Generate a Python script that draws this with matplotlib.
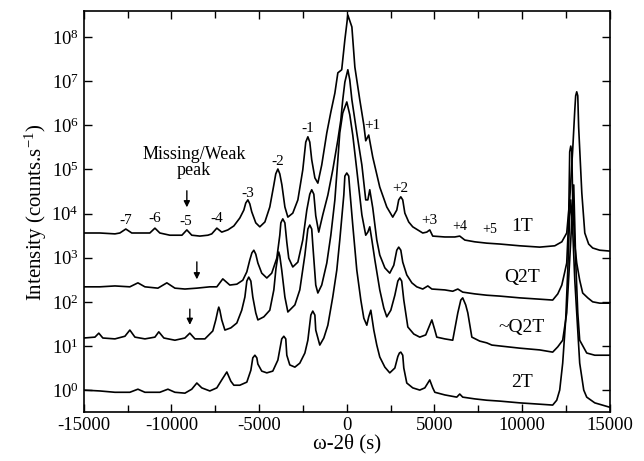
import matplotlib
matplotlib.use('Agg')
import matplotlib.pyplot as plt
import numpy as np
from matplotlib.ticker import MultipleLocator, FixedLocator, NullLocator

matplotlib.rcParams['font.family'] = 'Liberation Serif'
matplotlib.rcParams['mathtext.fontset'] = 'stix'
matplotlib.rcParams['axes.unicode_minus'] = False

# (omega-2theta in s, log10 of intensity)
scan_1t = [(-15000, 3.56), (-14080, 3.56), (-13220, 3.54), (-12940, 3.56), (-12600, 3.65),
           (-12260, 3.56), (-11800, 3.56), (-11230, 3.56), (-10940, 3.67), (-10660, 3.56),
           (-10090, 3.51), (-9400, 3.51), (-9120, 3.63), (-8840, 3.51), (-8380, 3.49),
           (-7920, 3.51), (-7700, 3.54), (-7410, 3.67), (-7130, 3.58), (-6780, 3.63),
           (-6440, 3.72), (-6100, 3.90), (-5870, 4.08), (-5760, 4.24), (-5640, 4.31),
           (-5530, 4.22), (-5420, 4.04), (-5190, 3.79), (-4960, 3.70), (-4670, 3.81),
           (-4390, 4.15), (-4160, 4.65), (-4050, 4.90), (-3930, 5.01), (-3820, 4.90),
           (-3700, 4.65), (-3530, 4.15), (-3360, 3.92), (-3080, 4.01), (-2790, 4.31),
           (-2510, 4.99), (-2340, 5.62), (-2220, 5.74), (-2110, 5.62), (-2000, 5.22),
           (-1820, 4.81), (-1650, 4.69), (-1430, 5.10), (-1140, 5.83), (-910, 6.30),
           (-680, 6.73), (-510, 7.19), (-290, 7.26), (-110, 7.94), (60, 8.50),
           (290, 8.23), (460, 7.32), (740, 6.58), (970, 6.01), (1080, 5.65),
           (1250, 5.78), (1480, 5.28), (1880, 4.60), (2280, 4.15), (2620, 3.92),
           (2850, 4.08), (2960, 4.31), (3080, 4.38), (3190, 4.31), (3310, 4.01),
           (3530, 3.81), (3760, 3.70), (4330, 3.56), (4560, 3.58), (4730, 3.63),
           (4900, 3.49), (5590, 3.47), (6160, 3.47), (6440, 3.49), (6730, 3.40),
           (7300, 3.36), (7980, 3.33), (8720, 3.31), (9860, 3.27), (11000, 3.24),
           (11860, 3.27), (12260, 3.36), (12540, 3.56), (12710, 4.31), (12880, 5.44),
           (13000, 6.35), (13050, 6.67), (13110, 6.76), (13170, 6.67), (13220, 5.96),
           (13400, 4.47), (13570, 3.56), (13790, 3.31), (14020, 3.22), (14420, 3.17),
           (15000, 3.15)]

scan_q2t = [(-15000, 2.34), (-14080, 2.34), (-13220, 2.36), (-12370, 2.34), (-11910, 2.43),
            (-11510, 2.34), (-10770, 2.31), (-10260, 2.43), (-9800, 2.31), (-9230, 2.29),
            (-8550, 2.31), (-7810, 2.34), (-7410, 2.34), (-7070, 2.52), (-6670, 2.38),
            (-6270, 2.40), (-5930, 2.49), (-5700, 2.68), (-5530, 2.95), (-5410, 3.11),
            (-5300, 3.17), (-5190, 3.08), (-5070, 2.88), (-4850, 2.65), (-4560, 2.54),
            (-4280, 2.65), (-3990, 2.99), (-3820, 3.51), (-3760, 3.79), (-3650, 3.88),
            (-3530, 3.79), (-3420, 3.35), (-3310, 2.99), (-3080, 2.79), (-2790, 2.90),
            (-2510, 3.40), (-2280, 4.08), (-2110, 4.44), (-2000, 4.54), (-1880, 4.44),
            (-1770, 3.95), (-1600, 3.58), (-1370, 3.97), (-1080, 4.42), (-800, 4.99),
            (-510, 5.67), (-340, 6.12), (-230, 6.58), (-110, 6.98), (60, 7.26),
            (170, 7.03), (290, 6.58), (570, 5.83), (860, 5.10), (1080, 4.31),
            (1200, 4.31), (1310, 4.54), (1480, 4.13), (1710, 3.40), (1880, 3.06),
            (2170, 2.77), (2450, 2.65), (2680, 2.83), (2850, 3.17), (2960, 3.24),
            (3080, 3.17), (3190, 2.90), (3420, 2.61), (3710, 2.43), (3990, 2.34),
            (4330, 2.29), (4620, 2.36), (4850, 2.29), (5590, 2.27), (6040, 2.24),
            (6330, 2.29), (6610, 2.22), (7300, 2.18), (7980, 2.15), (8720, 2.13),
            (9860, 2.09), (11000, 2.06), (11740, 2.04), (12030, 2.18), (12260, 2.38),
            (12430, 2.68), (12540, 2.88), (12650, 3.85), (12710, 5.40), (12770, 5.53),
            (12830, 5.40), (12880, 4.31), (13000, 3.29), (13110, 2.88), (13280, 2.49),
            (13450, 2.20), (13740, 2.09), (14020, 2.00), (14420, 1.97), (15000, 1.97)]

scan_nq2t = [(-15000, 1.18), (-14360, 1.20), (-14140, 1.29), (-13910, 1.18), (-13220, 1.16),
             (-12650, 1.22), (-12370, 1.36), (-12080, 1.20), (-11510, 1.16), (-10940, 1.20),
             (-10720, 1.32), (-10430, 1.18), (-9800, 1.13), (-9230, 1.18), (-8950, 1.29),
             (-8660, 1.16), (-8090, 1.16), (-7640, 1.34), (-7470, 1.59), (-7350, 1.81),
             (-7300, 1.88), (-7240, 1.81), (-7130, 1.59), (-6950, 1.36), (-6610, 1.41),
             (-6270, 1.52), (-5990, 1.81), (-5810, 2.11), (-5700, 2.47), (-5590, 2.56),
             (-5470, 2.47), (-5360, 2.11), (-5190, 1.75), (-5070, 1.59), (-4730, 1.66),
             (-4390, 1.81), (-4160, 2.27), (-4040, 2.75), (-3930, 3.04), (-3880, 3.13),
             (-3820, 3.04), (-3710, 2.72), (-3530, 2.11), (-3360, 1.77), (-2960, 1.93),
             (-2680, 2.27), (-2390, 3.06), (-2220, 3.65), (-2110, 3.74), (-2000, 3.65),
             (-1940, 3.30), (-1770, 2.38), (-1650, 2.20), (-1430, 2.38), (-1140, 2.88),
             (-910, 3.51), (-680, 4.31), (-510, 5.22), (-400, 5.83), (-230, 6.28),
             (0, 6.53), (170, 6.24), (340, 5.78), (570, 4.99), (860, 3.97),
             (1080, 3.51), (1200, 3.58), (1310, 3.70), (1430, 3.40), (1600, 2.95),
             (1880, 2.27), (2110, 1.86), (2280, 1.66), (2510, 1.81), (2740, 2.15),
             (2910, 2.47), (3020, 2.54), (3130, 2.47), (3250, 2.04), (3480, 1.43),
             (3820, 1.27), (4160, 1.20), (4500, 1.25), (4850, 1.59), (5020, 1.36),
             (5130, 1.20), (5590, 1.16), (6040, 1.13), (6330, 1.75), (6500, 2.04),
             (6610, 2.09), (6780, 1.93), (6900, 1.75), (7130, 1.20), (7580, 1.11),
             (7980, 1.07), (8270, 1.02), (8720, 1.00), (9860, 0.95), (11000, 0.91),
             (11740, 0.86), (12030, 0.98), (12310, 1.13), (12540, 1.75), (12710, 2.95),
             (12940, 4.65), (13050, 2.95), (13170, 1.75), (13280, 1.13), (13680, 0.84),
             (14140, 0.79), (15000, 0.79)]

scan_2t = [(-15000, 0.00), (-14080, -0.02), (-13220, -0.05), (-12370, -0.05), (-11910, 0.02),
           (-11510, -0.05), (-10660, -0.05), (-10200, 0.02), (-9800, -0.05), (-9230, -0.07),
           (-8840, 0.02), (-8550, 0.16), (-8270, 0.05), (-7810, -0.02), (-7410, 0.05),
           (-7130, 0.23), (-6840, 0.41), (-6610, 0.20), (-6440, 0.11), (-6100, 0.11),
           (-5700, 0.18), (-5470, 0.45), (-5360, 0.73), (-5240, 0.79), (-5130, 0.73),
           (-5070, 0.59), (-4850, 0.43), (-4560, 0.39), (-4220, 0.43), (-3930, 0.68),
           (-3710, 1.16), (-3590, 1.22), (-3480, 1.16), (-3420, 0.79), (-3250, 0.57),
           (-2960, 0.52), (-2680, 0.61), (-2390, 0.84), (-2220, 1.13), (-2050, 1.70),
           (-1940, 1.79), (-1820, 1.70), (-1770, 1.36), (-1540, 1.02), (-1310, 1.18),
           (-1080, 1.47), (-800, 2.11), (-570, 2.72), (-400, 3.40), (-170, 4.42),
           (-110, 4.85), (0, 4.92), (110, 4.85), (170, 4.54), (340, 3.74),
           (570, 2.72), (800, 2.04), (970, 1.63), (1140, 1.47), (1250, 1.66),
           (1370, 1.81), (1540, 1.36), (1710, 1.02), (1880, 0.75), (2170, 0.52),
           (2450, 0.39), (2740, 0.50), (2910, 0.76), (3000, 0.84), (3080, 0.86),
           (3190, 0.79), (3250, 0.50), (3420, 0.16), (3760, 0.05), (4160, 0.00),
           (4450, 0.05), (4730, 0.23), (4900, 0.05), (5020, -0.05), (5590, -0.11),
           (6270, -0.16), (6440, -0.09), (6610, -0.16), (7300, -0.20), (7980, -0.23),
           (8720, -0.25), (9860, -0.29), (11000, -0.32), (11740, -0.34), (11970, -0.23),
           (12140, 0.00), (12310, 0.61), (12480, 1.59), (12600, 2.72), (12710, 3.97),
           (12770, 4.31), (12880, 3.63), (13000, 2.49), (13110, 1.75), (13280, 0.61),
           (13510, 0.00), (13680, -0.16), (14140, -0.29), (15000, -0.39)]

# satellite labels on the 1T scan
sat_names = ['-7', '-6', '-5', '-4', '-3', '-2', '-1', '+1', '+2', '+3', '+4', '+5']
sat_x = [-12600, -10940, -9180, -7410, -5640, -3930, -2220, 1430, 3080, 4730, 6440, 8150]
sat_y = [7.1e3, 7.6e3, 6.5e3, 7.6e3, 2.9e4, 1.55e5, 8.7e5, 9.8e5, 3.8e4, 7.1e3, 5.0e3, 4.3e3]

sample_names = ['1T', 'Q2T', '~Q2T', '2T']
sample_y = [5.2e3, 3.6e2, 2.6e1, 1.45e0]

decades = [1e0, 1e1, 1e2, 1e3, 1e4, 1e5, 1e6, 1e7, 1e8]

fig, ax = plt.subplots(1, 1, figsize=(6.44, 4.61), dpi=100)
fig.subplots_adjust(left=0.130, right=0.947, bottom=0.106, top=0.976)

for scan in [scan_1t, scan_q2t, scan_nq2t, scan_2t]:
    xs = [p[0] for p in scan]
    ys = 10 ** np.array([p[1] for p in scan])
    ax.plot(xs, ys, color='black', linewidth=1.2)

ax.set_yscale('log')
ax.set_xlim(-15000, 15000)
ax.set_ylim(10 ** -0.5, 10 ** 8.59)

#Ticks
ax.xaxis.set_major_locator(MultipleLocator(5000))
ax.xaxis.set_minor_locator(MultipleLocator(2500))
ax.yaxis.set_major_locator(FixedLocator(decades))
ax.yaxis.set_minor_locator(NullLocator())
ax.tick_params(which='both', direction='in', top=True, right=True, labelsize=13.5)
ax.tick_params(which='major', length=6, width=1)
ax.tick_params(which='minor', length=5, width=1)
for s in ax.spines.values():
    s.set_linewidth(1.2)

ax.set_xlabel('ω-2θ (s)', fontsize=15, labelpad=0)
ax.set_ylabel('Intensity (counts.s$^{\\mathregular{-1}}$)', fontsize=15, labelpad=2)

#Labels
for name, xx, yy in zip(sat_names, sat_x, sat_y):
    fs = 10 if name in ['+4', '+5'] else 11
    ax.text(xx, yy, name, ha='center', va='center', fontsize=fs)

for name, yy in zip(sample_names, sample_y):
    ax.text(9980, yy, name, ha='center', va='center', fontsize=14)

ax.text(-8700, 1.45e5, 'Missing/Weak\npeak', ha='center', va='center', fontsize=13,
        linespacing=0.95)

arrows = [(-9120, 3.8e4, 1.2e4), (-8550, 9.3e2, 2.8e2), (-8950, 7.9e1, 2.6e1)]
for xx, y0, y1 in arrows:
    ax.annotate('', xy=(xx, y1), xytext=(xx, y0),
                arrowprops=dict(arrowstyle='-|>', color='black', lw=1, mutation_scale=9))

fig.savefig('out.png', dpi=100)
